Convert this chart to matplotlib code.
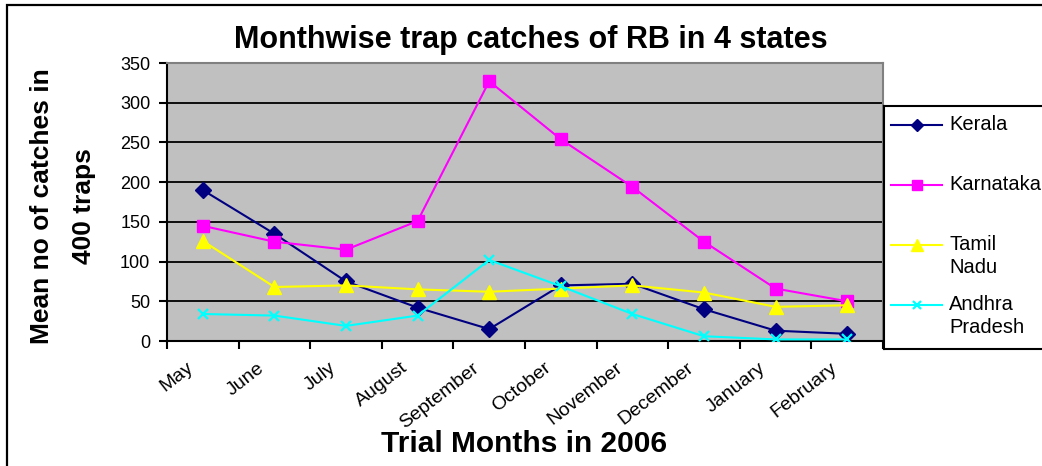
import matplotlib
matplotlib.use("Agg")
import matplotlib.pyplot as plt
import matplotlib.transforms as mtransforms
from matplotlib.lines import Line2D
from matplotlib.patches import Rectangle

plt.rcParams['font.family'] = ['Liberation Sans', 'DejaVu Sans']

# ---- data ----
months = ["May", "June", "July", "August", "September", "October",
          "November", "December", "January", "February"]
kerala = [190, 135, 75, 42, 15, 70, 72, 40, 13, 9]
karnataka = [145, 125, 115, 151, 327, 254, 194, 125, 66, 50]
tamil_nadu = [126, 68, 70, 65, 62, 66, 70, 61, 43, 45]
andhra_pradesh = [34, 32, 19, 32, 102, 69, 34, 6, 2, 2]
series_names = ["Kerala", "Karnataka", "Tamil\nNadu", "Andhra\nPradesh"]
y_ticks = [0, 50, 100, 150, 200, 250, 300, 350]

title = "Monthwise trap catches of RB in 4 states"
x_title = "Trial Months in 2006"
y_title = "Mean no of catches in\n400 traps"

# ---- styles ----
styles = [
    dict(color="#000080", marker="D", markersize=8),
    dict(color="#FF00FF", marker="s", markersize=8.5),
    dict(color="#FFFF00", marker="^", markersize=10),
    dict(color="#00FFFF", marker="x", markersize=7, markeredgewidth=1.6),
]

W, H = 1042, 466
fig = plt.figure(figsize=(W / 100, H / 100), dpi=100)


def fx(px):
    return px / W


def fy(py):
    return 1 - py / H


# outer chart frame (top and left edges visible)
fig.add_artist(Rectangle((fx(7), fy(480)), fx(1060) - fx(7), fy(5) - fy(480),
                         transform=fig.transFigure, fill=False,
                         edgecolor="black", linewidth=1.6))

# plot area
L, R, T, B = 167, 883, 63, 341
ax = fig.add_axes([fx(L), fy(B), fx(R) - fx(L), fy(T) - fy(B)])
ax.set_facecolor("#C0C0C0")

x = list(range(len(months)))
for vals, st in zip([kerala, karnataka, tamil_nadu, andhra_pradesh], styles):
    ax.plot(x, vals, linewidth=1.5, color=st["color"], marker=st["marker"],
            markersize=st["markersize"], markerfacecolor=st["color"],
            markeredgecolor=st["color"],
            markeredgewidth=st.get("markeredgewidth", 1.0), zorder=3)

ax.set_xlim(-0.5, len(months) - 0.5)
ax.set_ylim(0, 350)
ax.set_yticks(y_ticks)
ax.yaxis.grid(True, color="black", linewidth=1.3)
ax.set_axisbelow(True)

# tick marks on category boundaries, labels near category centres
ax.set_xticks([i - 0.5 for i in range(len(months) + 1)], minor=True)
ax.set_xticks(x)
ax.set_xticklabels(months, rotation=38, ha="right", va="center",
                   rotation_mode="anchor", fontsize=14)
ax.tick_params(axis="x", which="major", length=0, pad=18)
ax.tick_params(axis="x", which="minor", length=6, width=1.5, color="black")
ax.tick_params(axis="y", length=6, width=1.5, pad=6, labelsize=13)
shift = mtransforms.ScaledTranslation(-12 / 100, 0, fig.dpi_scale_trans)
for lbl in ax.get_xticklabels():
    lbl.set_transform(lbl.get_transform() + shift)

for side in ("left", "bottom"):
    ax.spines[side].set_color("black")
    ax.spines[side].set_linewidth(1.5)
for side in ("top", "right"):
    ax.spines[side].set_color("#808080")
    ax.spines[side].set_linewidth(1.5)

# titles
fig.text(fx(531), fy(48), title, ha="center", va="baseline",
         fontsize=22, fontweight="bold")
fig.text(fx(524), fy(452), x_title, ha="center", va="baseline",
         fontsize=21.5, fontweight="bold")
fig.text(fx(63), fy(206), y_title, ha="center", va="center", rotation=90,
         fontsize=19, fontweight="bold", multialignment="center",
         linespacing=1.95)

# legend box
lax = fig.add_axes([fx(884), fy(349), fx(1060) - fx(884), fy(106) - fy(349)])
lax.set_xlim(884, 1060)
lax.set_ylim(349, 106)
lax.set_xticks([])
lax.set_yticks([])
lax.set_facecolor("white")
for sp in lax.spines.values():
    sp.set_linewidth(1.5)
    sp.set_color("black")
entry_y = [125, 185, 245, 305]
for name, st, yy in zip(series_names, styles, entry_y):
    lax.add_line(Line2D([891, 942], [yy, yy], color=st["color"], linewidth=1.5))
    lax.add_line(Line2D([916.5], [yy], color=st["color"], marker=st["marker"],
                        markersize=st["markersize"] * 0.8,
                        markerfacecolor=st["color"], markeredgecolor=st["color"],
                        markeredgewidth=st.get("markeredgewidth", 1.0)))
    lax.text(949, yy - 10, name, ha="left", va="top", fontsize=14.5,
             linespacing=1.25)

fig.savefig("out.png", dpi=100)
